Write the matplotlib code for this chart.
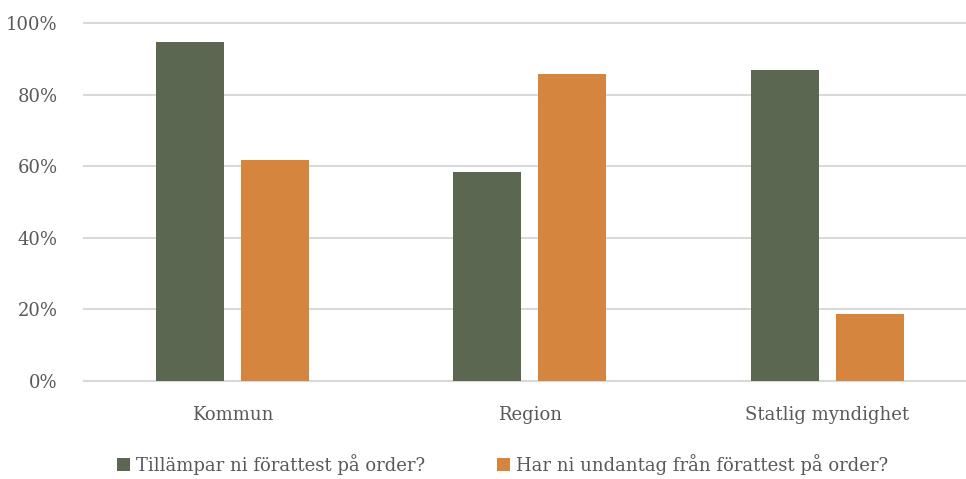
import numpy as np
import matplotlib.pyplot as plt
from matplotlib.ticker import PercentFormatter

# Data
categories = ['Kommun', 'Region', 'Statlig myndighet']
series_names = ['Tillämpar ni förattest på order?',
                'Har ni undantag från förattest på order?']
tillampar = [94.6, 58.4, 86.9]
undantag = [61.7, 85.8, 18.7]

green = '#5C6751'
orange = '#D5853D'
text_col = '#595959'
grid_col = '#D9D9D9'

plt.rcParams['font.family'] = ['DejaVu Serif']

fig = plt.figure(figsize=(9.66, 4.79), dpi=100)
ax = fig.add_axes([0.087, 0.2046, 0.923, 0.7474])

x = np.arange(len(categories))
w = 0.229
off = 0.143
ax.bar(x - off, tillampar, w, color=green, label=series_names[0], zorder=3)
ax.bar(x + off, undantag, w, color=orange, label=series_names[1], zorder=3)

ax.set_xlim(-0.5, 2.5)
ax.set_ylim(0, 100)
ax.set_yticks(np.arange(0, 101, 20))
ax.yaxis.set_major_formatter(PercentFormatter(decimals=0))
ax.yaxis.grid(True, color=grid_col, linewidth=1.5, zorder=0)
for gl in ax.get_ygridlines():
    gl.set_clip_on(False)
ax.set_xticks(x)
ax.set_xticklabels(categories)
for s in ['top', 'right', 'left']:
    ax.spines[s].set_visible(False)
ax.spines['bottom'].set_color(grid_col)
ax.spines['bottom'].set_linewidth(1.5)
ax.tick_params(axis='both', length=0, labelsize=13, colors=text_col)
ax.tick_params(axis='x', pad=18)
ax.tick_params(axis='y', pad=19)

fig.legend(loc='lower center', bbox_to_anchor=(0.52, -0.025), ncol=2,
           frameon=False, fontsize=13, labelcolor=text_col,
           handlelength=0.75, handleheight=0.75, handletextpad=0.3,
           columnspacing=4)

fig.savefig('out.png', dpi=100)
